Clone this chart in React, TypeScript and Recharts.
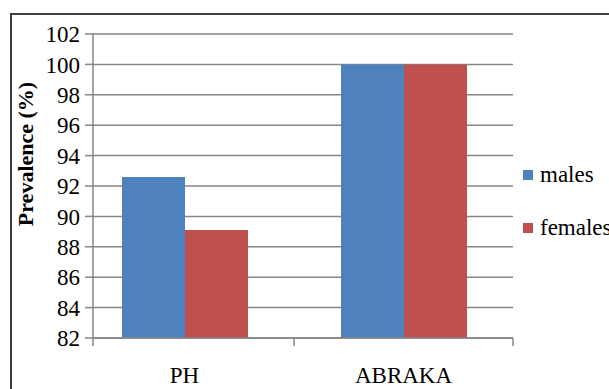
import React from 'react';
import { BarChart, Bar, XAxis, YAxis, CartesianGrid, Legend, Label } from 'recharts';

const categories = ['PH', 'ABRAKA'];
const malesValues = [92.6, 100];
const femalesValues = [89.1, 100];
const yTicks = [82, 84, 86, 88, 90, 92, 94, 96, 98, 100, 102];

const series = [
  { key: 'males', name: 'males', color: '#4F81BD' },
  { key: 'females', name: 'females', color: '#C0504D' },
];

const data = categories.map((c, i) => ({ category: c, males: malesValues[i], females: femalesValues[i] }));

const FONT = "'Times New Roman', 'Liberation Serif', Times, serif";
const W = 609;
const H = 389;
const LEGEND_W = 96;
const MARGIN = { top: 34, right: 0, bottom: 0, left: 0 };
const Y_AXIS_W = 93;
const X_AXIS_H = 51;
const PAD_LEFT = -18;
const PAD_RIGHT = 0;
const PLOT_LEFT = MARGIN.left + Y_AXIS_W;
const PLOT_W = W - MARGIN.left - MARGIN.right - LEGEND_W - Y_AXIS_W;
const HALF_BAND = (PLOT_W - PAD_LEFT - PAD_RIGHT) / categories.length / 2;
const AXIS_COLOR = '#868686';
const TICK_FONT_SIZE = 23;

const XTick = (props: any) => {
  const { x, y, payload, index } = props;
  return (
    <g>
      <text x={x} y={y + 45} textAnchor="middle" fontFamily={FONT} fontSize={TICK_FONT_SIZE} fill="#000">
        {payload.value}
      </text>
      <line x1={x + HALF_BAND} x2={x + HALF_BAND} y1={y} y2={y + 8} stroke={AXIS_COLOR} strokeWidth={1.5} />
      {index === 0 ? (
        <line x1={PLOT_LEFT} x2={PLOT_LEFT} y1={y} y2={y + 8} stroke={AXIS_COLOR} strokeWidth={1.5} />
      ) : null}
    </g>
  );
};

const YLabel = (props: any) => {
  const vb = props.viewBox || { x: 0, y: 0, width: 0, height: 0 };
  const cx = vb.x + 25;
  const cy = vb.y + vb.height / 2 - 32;
  return (
    <text
      x={cx}
      y={cy}
      transform={`rotate(-90, ${cx}, ${cy})`}
      textAnchor="middle"
      dominantBaseline="central"
      fontFamily={FONT}
      fontWeight="bold"
      fontSize={22}
      fill="#000"
    >
      Prevalence (%)
    </text>
  );
};

const LegendContent = () => (
  <div style={{ fontFamily: FONT, fontSize: TICK_FONT_SIZE, color: '#000' }}>
    {series.map((s) => (
      <div key={s.key} style={{ display: 'flex', alignItems: 'center', height: 26, marginBottom: 27, whiteSpace: 'nowrap' }}>
        <span style={{ display: 'inline-block', width: 10, height: 10, background: s.color, marginRight: 7 }} />
        <span>{s.name}</span>
      </div>
    ))}
  </div>
);

export default function App() {
  return (
    <div style={{ position: 'fixed', left: 0, top: 0, width: W, height: H, overflow: 'hidden', background: '#fff' }}>
      <div
        style={{
          position: 'absolute',
          left: 10,
          top: 13,
          width: 700,
          height: 500,
          border: '2px solid #3f3f3f',
        }}
      />
      <div style={{ position: 'absolute', left: 0, top: 0 }}>
        <BarChart width={W} height={H} data={data} margin={MARGIN} barGap={0}>
          <CartesianGrid horizontal vertical={false} stroke={AXIS_COLOR} strokeWidth={1.5} />
          <XAxis
            dataKey="category"
            height={X_AXIS_H}
            padding={{ left: PAD_LEFT, right: PAD_RIGHT }}
            axisLine={{ stroke: AXIS_COLOR, strokeWidth: 1.5 }}
            tickLine={false}
            tickSize={0}
            tickMargin={0}
            tick={<XTick />}
            interval={0}
          />
          <YAxis
            width={Y_AXIS_W}
            domain={[82, 102]}
            ticks={yTicks}
            interval={0}
            axisLine={{ stroke: AXIS_COLOR, strokeWidth: 1.5 }}
            tickLine={{ stroke: AXIS_COLOR, strokeWidth: 1.5 }}
            tickSize={8}
            tickMargin={5}
            tick={{ fontFamily: FONT, fontSize: TICK_FONT_SIZE, fill: '#000' }}
          >
            <Label content={<YLabel />} />
          </YAxis>
          <Legend
            layout="vertical"
            align="right"
            verticalAlign="top"
            wrapperStyle={{ left: 523, top: 162, width: LEGEND_W }}
            content={<LegendContent />}
          />
          {series.map((s) => (
            <Bar key={s.key} dataKey={s.key} name={s.name} fill={s.color} barSize={63} isAnimationActive={false} />
          ))}
        </BarChart>
      </div>
    </div>
  );
}
